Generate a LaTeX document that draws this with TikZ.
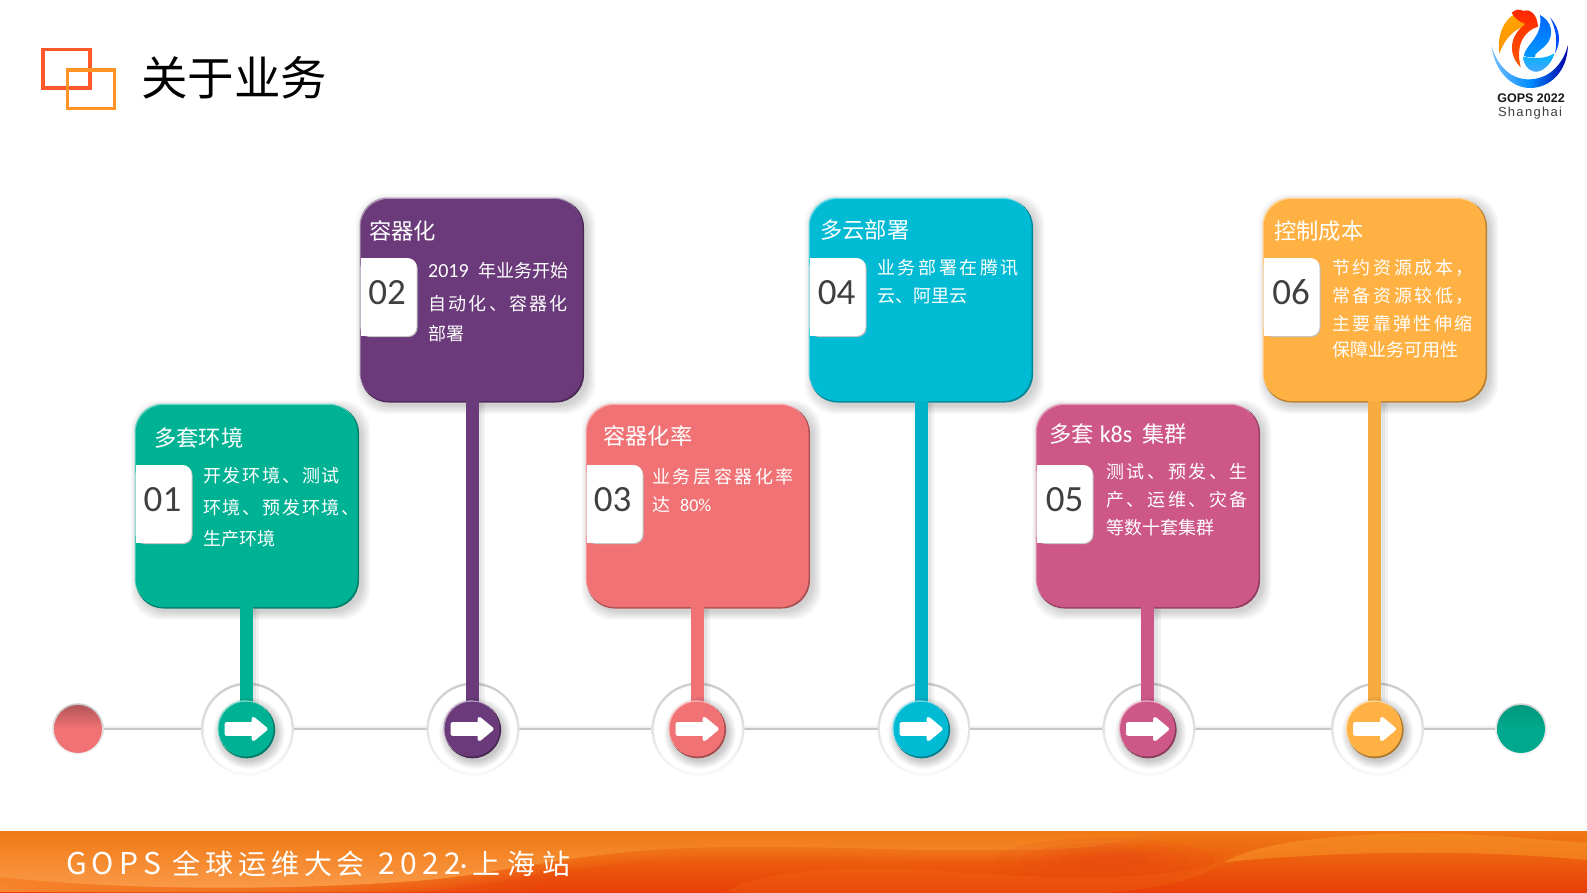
\documentclass[tikz,border=0pt]{standalone}
\usepackage{fontspec}
\setmainfont{Noto Sans CJK SC}
\newfontfamily\latf{Carlito}
\newfontfamily\logof{Liberation Sans}
\newfontfamily\logos[LetterSpace=10]{Liberation Sans}
\newcommand{\ls}[2]{{\addfontfeature{LetterSpace=#1}#2}}
\usetikzlibrary{calc,fadings}
\definecolor{cgreen}{HTML}{00B294}
\definecolor{cpurple}{HTML}{6A3A7A}
\definecolor{ccoral}{HTML}{F07275}
\definecolor{ccyan}{HTML}{00BBD3}
\definecolor{crose}{HTML}{CD5888}
\definecolor{camber}{HTML}{FFB243}
\definecolor{ndark}{HTML}{404040}
\tikzset{
  cardbox/.style={rounded corners=28pt,minimum width=222pt,minimum height=202pt,inner sep=0pt,draw=none},
  numbox/.style={inner sep=0pt,text=ndark,font=\fontsize{37}{37}\selectfont\latf},
  titletxt/.style={anchor=west,inner sep=0pt,text=white,font=\fontsize{22.3}{22.3}\selectfont},
  bodytxt/.style={anchor=west,inner sep=0pt,text=white,font=\fontsize{18}{18}\selectfont},
  hubc/.style={circle,minimum size=55pt,inner sep=0pt},
  ringc/.style={circle,minimum size=93pt,inner sep=0pt,top color=black!20,bottom color=black!2},
  ringi/.style={circle,minimum size=88pt,inner sep=0pt,fill=white},
  stem/.style={line width=13pt,line cap=butt},
}
\newcommand{\mkcard}[4]{%
  \foreach \s in {1,...,9}{%
    \fill[black,opacity=.018,rounded corners=30pt]
      ($(#2,#3)+(-111-\s+4,-101-\s+4)$) rectangle ($(#2,#3)+(111+\s+4,101+\s+4)$);}
  \fill[#4!72!black,rounded corners=28pt] ($(#2,#3)+(-111,-101)$) rectangle ($(#2,#3)+(112.5,102.5)$);
  \fill[#4!55!white,rounded corners=28pt] ($(#2,#3)+(-112,-102.5)$) rectangle ($(#2,#3)+(110,100)$);
  \node[cardbox,fill=#4] (#1) at (#2,#3) {};
}
\newcommand{\mktab}[5]{%
  \fill[black!25,rounded corners=9pt] (#2,#3) ++(0,1) -- ++(57,0) -- ++(0,78) -- ++(-57,0) -- cycle;
  \fill[white,rounded corners=9pt] (#2,#3) -- ++(56,0) -- ++(0,78) -- ++(-56,0) -- cycle;
  \fill[white] (#2,#3) rectangle ++(12,78);
  \node[numbox] (#1) at (#5,#3+34.5) {#4};
}
\newcommand{\mkhubring}[2]{%
  \node[ringc] (r#1o) at (#2,729) {};
  \node[ringi] (r#1) at (#2,729) {};
}
\newcommand{\mkhub}[3]{%
  \foreach \s in {1,...,9}{\fill[black,opacity=.022] ($(p#1)+(3,4)$) circle[radius=27+\s];}
  \fill[#3!68!black] ($(p#1)+(.7,.9)$) circle[radius=28.4];
  \fill[#3!45!white] ($(p#1)+(-.9,-.9)$) circle[radius=27.8];
  \node[hubc,fill=#3] (h#1) at (p#1) {};
  \begin{scope}[shift={(h#1.center)}]
    \fill[white,draw=white,line width=4pt,line join=round]
      (-19.5,-4.8) -- (7.5,-4.8) -- (7.5,-10) -- (19.5,0) -- (7.5,10) -- (7.5,4.8) -- (-19.5,4.8) -- cycle;
  \end{scope}
}
\begin{document}
\begin{tikzpicture}[x=1pt,y=-1pt]
\useasboundingbox (0,0) rectangle (1587,892);
\fill[white] (0,0) rectangle (1587,892);

% title icon
\draw[line width=3.2pt,color={rgb,255:red,255;green,88;blue,42}] (43,49.5) rectangle (90,88);
\draw[line width=3.2pt,color={rgb,255:red,255;green,147;blue,38}] (67.5,70) rectangle (114.5,108.5);
\node[anchor=west,inner sep=0pt,text=black,font=\fontsize{46.5}{46.5}\selectfont] (title) at (141,78) {关于业务};

% logo, in 3x zoom units
\begin{scope}[shift={(1440,0)},x=.3333pt,y=-.3333pt]
  \shade[left color=cyan!55!blue!55,right color=blue!65!black,middle color=blue!45!cyan]
    (155,140) .. controls (165,215) and (215,264) .. (270,264)
    .. controls (330,264) and (382,215) .. (384,135)
    .. controls (370,190) and (330,236) .. (270,238)
    .. controls (210,240) and (172,195) .. (155,140) -- cycle;
  \shade[top color=orange!70!yellow,bottom color=orange!85!yellow]
    (178,160) .. controls (170,100) and (195,50) .. (240,34)
    .. controls (252,55) and (270,72) .. (293,76)
    .. controls (250,72) and (205,90) .. (178,160) -- cycle;
  \shade[top color=red!70!orange,bottom color=orange!70!red]
    (215,38) .. controls (228,26) and (243,28) .. (250,33)
    .. controls (272,25) and (292,45) .. (294,80)
    .. controls (255,92) and (225,130) .. (242,202)
    .. controls (205,165) and (205,110) .. (256,72)
    .. controls (235,65) and (222,52) .. (215,38) -- cycle;
  \shade[top color=blue!60!cyan,bottom color=cyan!60!blue]
    (300,45) .. controls (335,62) and (345,105) .. (318,135)
    .. controls (298,155) and (282,160) .. (285,172)
    .. controls (262,172) and (250,170) .. (252,165)
    .. controls (260,130) and (310,110) .. (300,45) -- cycle;
  \shade[top color=cyan!70!blue,bottom color=cyan!50!blue!70]
    (250,170) .. controls (285,178) and (320,175) .. (343,160)
    .. controls (335,195) and (300,222) .. (280,214)
    .. controls (265,210) and (250,195) .. (250,170) -- cycle;
  \fill[blue!70!cyan] (330,52) .. controls (360,85) and (365,125) .. (345,160)
    .. controls (352,125) and (350,90) .. (330,52) -- cycle;
\end{scope}
\node[inner sep=0pt,text=ndark!40!black,font=\fontsize{12.5}{12.5}\selectfont\logof\bfseries] (logoa) at (1531,98) {GOPS 2022};
\node[inner sep=0pt,text=ndark,font=\fontsize{13}{13}\selectfont\logos] (logob) at (1530,113) {Shanghai};

% end dots and timeline
\node[circle,minimum size=51.5pt,inner sep=0pt,top color=black!22,bottom color=black!4] (d1o) at (78,729) {};
\node[circle,minimum size=48pt,inner sep=0pt,top color=ccoral!75!black,bottom color=ccoral,middle color=ccoral] (d1) at (78,729) {};
\node[circle,minimum size=51.5pt,inner sep=0pt,top color=black!18,bottom color=black!3] (d2o) at (1521,729) {};
\node[circle,minimum size=48pt,inner sep=0pt,top color=cgreen!85!black,bottom color=cgreen!95!black,middle color=cgreen!95!black] (d2) at (1521,729) {};
\draw[line width=4pt,black!6] ([yshift=1pt]d1o.east) -- ([yshift=1pt]d2o.west);
\draw[line width=1.8pt,black!22] (d1o.east) -- (d2o.west);

% rings
\mkhubring{1}{247.5}
\mkhubring{2}{473}
\mkhubring{3}{698}
\mkhubring{4}{924}
\mkhubring{5}{1149}
\mkhubring{6}{1377.5}

% hub centres
\coordinate (p1) at (246,729);
\coordinate (p2) at (472,729);
\coordinate (p3) at (697,729);
\coordinate (p4) at (921,729);
\coordinate (p5) at (1147.5,729);
\coordinate (p6) at (1374.5,729);

% cards
\mkcard{c1}{246.5}{506}{cgreen}
\mkcard{c2}{471.5}{300}{cpurple}
\mkcard{c3}{697.5}{506}{ccoral}
\mkcard{c4}{920.5}{300}{ccyan}
\mkcard{c5}{1147.5}{506}{crose}
\mkcard{c6}{1374.5}{300}{camber}

% stems
\foreach \n in {1,...,6}{
  \fill[black,opacity=.05] ([yshift=-1.5pt]c\n.south -| p\n) rectangle ($(p\n)+(10,-14)$);
  \fill[black,opacity=.05] ([yshift=-1.5pt]c\n.south -| p\n) rectangle ($(p\n)+(13,-14)$);
}
\draw[stem,cgreen] (c1.south -| p1) -- (p1);
\draw[stem,cpurple] (c2.south -| p2) -- (p2);
\draw[stem,ccoral] (c3.south -| p3) -- (p3);
\draw[stem,ccyan!95!black] (c4.south -| p4) -- (p4);
\draw[stem,crose] (c5.south -| p5) -- (p5);
\draw[stem,camber!96!black] (c6.south -| p6) -- (p6);

% hubs
\mkhub{1}{}{cgreen}
\mkhub{2}{}{cpurple}
\mkhub{3}{}{ccoral}
\mkhub{4}{}{ccyan}
\mkhub{5}{}{crose}
\mkhub{6}{}{camber}

% number tabs
\mktab{n1}{135.5}{465}{01}{162.5}
\mktab{n2}{360.5}{258}{02}{387}
\mktab{n3}{586.5}{465}{03}{612.5}
\mktab{n4}{809.5}{258}{04}{836.5}
\mktab{n5}{1036.5}{465}{05}{1064.5}
\mktab{n6}{1263.5}{258}{06}{1291}

% card texts
\node[titletxt] (t1) at (154,438) {多套环境};
\node[bodytxt] (b1a) at (203,476) {\ls{9.8}{开发环境、测试}};
\node[bodytxt] (b1b) at (203,508) {\ls{9.8}{环境、预发环境、}};
\node[bodytxt] (b1c) at (203,539) {生产环境};

\node[titletxt] (t2) at (369,231) {容器化};
\node[bodytxt] (b2a) at (428,271) {\makebox[50pt][l]{\fontsize{20}{20}\selectfont\latf 2019}年业务开始};
\node[bodytxt] (b2b) at (428,304) {\ls{12.7}{自动化、容器化}};
\node[bodytxt] (b2c) at (428,334) {部署};

\node[titletxt] (t3) at (603,436) {容器化率};
\node[bodytxt] (b3a) at (652,477) {\ls{14.5}{业务层容器化率}};
\node[bodytxt] (b3b) at (652,505) {达\hspace{10pt}{\latf 80\%}};

\node[titletxt] (t4) at (820,230) {多云部署};
\node[bodytxt] (b4a) at (877,268) {\ls{14.5}{业务部署在腾讯}};
\node[bodytxt] (b4b) at (877,296) {云、阿里云};

\node[titletxt] (t5) at (1049,434) {多套\hspace{6pt}{\fontsize{24}{24}\selectfont\latf k8s}\hspace{10pt}集群};
\node[bodytxt] (b5a) at (1106,472) {\ls{14.5}{测试、预发、生}};
\node[bodytxt] (b5b) at (1106,500) {\ls{14.5}{产、运维、灾备}};
\node[bodytxt] (b5c) at (1106,528) {等数十套集群};

\node[titletxt] (t6) at (1274,231) {控制成本};
\node[bodytxt] (b6a) at (1332,268) {\ls{14.5}{节约资源成本，}};
\node[bodytxt] (b6b) at (1332,296) {\ls{14.5}{常备资源较低，}};
\node[bodytxt] (b6c) at (1332,324) {\ls{13.5}{主要靠弹性伸缩}};
\node[bodytxt] (b6d) at (1332,350) {保障业务可用性};

% footer
\newcommand{\bandpath}{(0,831) -- (1145,831) .. controls (1110,852) and (1040,850) .. (950,850)
    .. controls (850,850) and (720,840) .. (600,855)
    .. controls (520,865) and (470,878) .. (400,882)
    .. controls (250,892) and (100,888) .. (0,877) -- cycle}
\begin{scope}
  \clip (0,831) rectangle (1587,892);
  \shade[top color={rgb,255:red,240;green,122;blue,20},bottom color={rgb,255:red,232;green,62;blue,6}] (0,831) rectangle (1587,892);
  \fill[color={rgb,255:red,248;green,135;blue,50},path fading=east] (0,872) rectangle (560,892);
  % soft edges for the lighter wave
  \foreach \w in {4,10,16,22}{\draw[line width=\w pt,opacity=.16,color={rgb,255:red,245;green,128;blue,35},line join=round] \bandpath;}
  \shade[top color={rgb,255:red,240;green,122;blue,20},bottom color={rgb,255:red,250;green,155;blue,75}] \bandpath;
  % faint lower wave
  \fill[color={rgb,255:red,245;green,120;blue,30},opacity=.22]
    (725,892) .. controls (760,870) and (850,866) .. (930,870)
    .. controls (1030,878) and (1170,885) .. (1228,858)
    .. controls (1180,905) and (1000,900) .. (725,892) -- cycle;
  % reddish glow in the middle
  \foreach \r/\o in {110/.14,85/.14,65/.16,45/.18,25/.2}{\fill[color={rgb,255:red,232;green,70;blue,15},opacity=\o] (1105,860) ellipse[x radius=\r pt,y radius=.2*\r pt];}
  % right wave
  \foreach \w in {2,6,10}{\draw[line width=\w pt,opacity=.15,color={rgb,255:red,240;green,120;blue,25},line join=round]
    (1225,862) .. controls (1270,835) and (1400,830) .. (1480,835) .. controls (1530,838) and (1570,842) .. (1587,843);}
  \fill[color={rgb,255:red,248;green,150;blue,40},opacity=.55]
    (1225,862) .. controls (1270,835) and (1400,830) .. (1480,835)
    .. controls (1530,838) and (1570,842) .. (1587,843)
    -- (1587,860) .. controls (1480,850) and (1350,850) .. (1225,862) -- cycle;
\end{scope}
\node[anchor=west,inner sep=0pt,text=white,font=\fontsize{30}{30}\selectfont] (foot) at (66,864)
  {\ls{17}{GOPS}\hspace{12pt}{\fontsize{28}{28}\selectfont\ls{17}{全球运维大会}}\hspace{14pt}\ls{17}{2022}\hspace{3pt}\makebox[0pt]{\fontsize{28}{28}\selectfont\latf ·}\hspace{9pt}{\fontsize{28}{28}\selectfont\ls{24}{上海站}}};
\end{tikzpicture}
\end{document}
